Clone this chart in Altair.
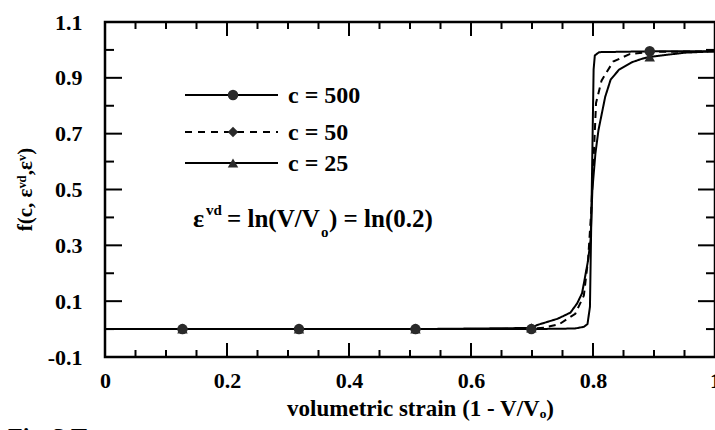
import altair as alt
import pandas as pd

# ---------------- data ----------------
series_names = ["c = 500", "c = 50", "c = 25"]

c500_x = [0.0, 0.127, 0.318, 0.509, 0.699, 0.77, 0.785, 0.791, 0.795, 0.798, 0.801, 0.803, 0.81, 0.893, 1.0]
c500_y = [0.0, 0.0, 0.0, 0.0, 0.0, 0.002, 0.008, 0.018, 0.08, 0.5, 0.93, 0.98, 0.992, 0.995, 0.995]

c50_x = [0.0, 0.127, 0.318, 0.509, 0.699, 0.72, 0.745, 0.771, 0.785, 0.792, 0.797, 0.80, 0.805, 0.814, 0.833, 0.86, 0.893, 1.0]
c50_y = [0.0, 0.0, 0.0, 0.0, 0.001, 0.005, 0.018, 0.055, 0.12, 0.25, 0.42, 0.56, 0.81, 0.89, 0.958, 0.985, 0.993, 0.995]

c25_x = [0.0, 0.127, 0.318, 0.509, 0.699, 0.709, 0.742, 0.763, 0.774, 0.782, 0.786, 0.792, 0.796, 0.799, 0.804, 0.809,
         0.820, 0.829, 0.843, 0.864, 0.880, 0.893, 0.95, 1.0]
c25_y = [0.0, 0.0, 0.0, 0.0, 0.004, 0.015, 0.037, 0.059, 0.092, 0.128, 0.175, 0.247, 0.32, 0.5, 0.63, 0.713,
         0.832, 0.894, 0.930, 0.956, 0.968, 0.975, 0.99, 0.995]

marker_x = [0.127, 0.318, 0.509, 0.699, 0.893]
c500_marker_y = [0.0, 0.0, 0.0, 0.0, 0.995]
c50_marker_y = [0.0, 0.0, 0.0, 0.001, 0.993]
c25_marker_y = [0.0, 0.0, 0.0, 0.004, 0.975]

x_major_ticks = [0.0, 0.2, 0.4, 0.6, 0.8, 1.0]
x_minor_ticks = [0.05, 0.1, 0.15, 0.25, 0.3, 0.35, 0.45, 0.5, 0.55, 0.65, 0.7, 0.75, 0.85, 0.9, 0.95]
y_major_ticks = [-0.1, 0.1, 0.3, 0.5, 0.7, 0.9, 1.1]
y_minor_ticks = [0.0, 0.2, 0.4, 0.6, 0.8, 1.0]

x_title = "volumetric strain (1 - V/V\u2092)"
y_title = "f(c, \u03b5\u1d5b\u1d48,\u03b5\u1d5b)"
caption = "Fig. 3  T"

# ---------------- tables ----------------
line_df = pd.concat([
    pd.DataFrame({"x": c500_x, "y": c500_y, "series": series_names[0]}),
    pd.DataFrame({"x": c50_x, "y": c50_y, "series": series_names[1]}),
    pd.DataFrame({"x": c25_x, "y": c25_y, "series": series_names[2]}),
], ignore_index=True)

marker_df = pd.concat([
    pd.DataFrame({"x": marker_x, "y": c500_marker_y, "series": series_names[0]}),
    pd.DataFrame({"x": marker_x, "y": c50_marker_y, "series": series_names[1]}),
    pd.DataFrame({"x": marker_x, "y": c25_marker_y, "series": series_names[2]}),
], ignore_index=True)

W, H = 610, 335
FONT = "Liberation Serif"
INK = "black"

xs = alt.Scale(domain=[0, 1], nice=False, zero=False)
ys = alt.Scale(domain=[-0.1, 1.1], nice=False, zero=False)

x_axis = alt.Axis(
    values=x_major_ticks, format="~g", labelFont=FONT, labelFontSize=22, labelFontWeight="bold",
    labelColor=INK, labelPadding=13, labelFlush=False, labelOverlap=False,
    ticks=False, tickSize=0, domain=False, grid=False,
    title=x_title, titleFont=FONT, titleFontSize=23, titleFontWeight="bold", titleColor=INK,
    titleX=315, titleY=58, titleBaseline="alphabetic", titleAlign="center",
)
y_axis = alt.Axis(
    values=y_major_ticks,
    labelExpr="datum.value < 0 ? '-' + format(-datum.value, '.1f') : format(datum.value, '.1f')",
    labelFont=FONT, labelFontSize=22, labelFontWeight="bold", labelColor=INK, labelPadding=23,
    labelFlush=False, labelOverlap=False,
    ticks=False, tickSize=0, domain=False, grid=False,
    title=y_title, titleFont=FONT, titleFontSize=21, titleFontWeight="bold", titleColor=INK,
    titleAngle=270, titleX=-74, titleY=167, titleAlign="center", titleBaseline="alphabetic",
)

X = lambda f: alt.X(f, type="quantitative", scale=xs, axis=x_axis)
Y = lambda f: alt.Y(f, type="quantitative", scale=ys, axis=y_axis)

layers = []

# inward ticks on all four sides
def xticks(vals, length):
    d = pd.DataFrame({"tx": vals})
    bot = alt.Chart(d).mark_rule(color=INK, strokeWidth=2).encode(
        x=X("tx"), y=alt.value(H), y2=alt.value(H - length))
    top = alt.Chart(d).mark_rule(color=INK, strokeWidth=2).encode(
        x=X("tx"), y=alt.value(0), y2=alt.value(length))
    return [bot, top]

def yticks(vals, length):
    d = pd.DataFrame({"ty": vals})
    left = alt.Chart(d).mark_rule(color=INK, strokeWidth=2).encode(
        y=Y("ty"), x=alt.value(0), x2=alt.value(length))
    right = alt.Chart(d).mark_rule(color=INK, strokeWidth=2).encode(
        y=Y("ty"), x=alt.value(W - length), x2=alt.value(W))
    return [left, right]

layers += xticks(x_major_ticks, 14) + xticks(x_minor_ticks, 7)
layers += yticks(y_major_ticks, 17) + yticks(y_minor_ticks, 9)

dash_scale = alt.Scale(domain=series_names, range=[[1, 0], [7, 5], [1, 0]])
shape_scale = alt.Scale(domain=series_names, range=["circle", "diamond", "triangle-up"])

lines = alt.Chart(line_df).mark_line(color=INK, strokeWidth=2).encode(
    x=X("x"), y=Y("y"), detail="series:N",
    strokeDash=alt.StrokeDash("series:N", scale=dash_scale, legend=None),
)
points = alt.Chart(marker_df).mark_point(filled=True, color="#2a2a2a", size=110, opacity=1).encode(
    x=X("x"), y=Y("y"),
    shape=alt.Shape("series:N", scale=shape_scale, legend=None),
)
layers += [lines, points]

# hand-drawn legend (inside the plot, top-left)
legend_rows = [73, 110, 141]
legend_dash = [[1, 0], [7, 6], [1, 0]]
legend_shape = ["circle", "diamond", "triangle-up"]
for name, ry, dash, shp in zip(series_names, legend_rows, legend_dash, legend_shape):
    d = pd.DataFrame({"label": [name]})
    layers.append(alt.Chart(d).mark_rule(color=INK, strokeWidth=2, strokeDash=dash).encode(
        x=alt.value(80), x2=alt.value(173), y=alt.value(ry)))
    layers.append(alt.Chart(d).mark_point(filled=True, color="#2a2a2a", size=110, opacity=1, shape=shp).encode(
        x=alt.value(128), y=alt.value(ry)))
    layers.append(alt.Chart(d).mark_text(align="left", baseline="middle", font=FONT, fontSize=24,
                                         fontWeight="bold", color=INK).encode(
        x=alt.value(183), y=alt.value(ry + 1), text="label:N"))

# annotation  eps^vd = ln(V/V_o) = ln(0.2)
ann_parts = [
    ("\u03b5", 88, 205, 26),
    ("vd", 101, 193, 15),
    ("= ln(V/V", 122, 205, 25),
    ("o", 216, 215, 15),
    (") = ln(0.2)", 224, 205, 25),
]
for txt, ax, ay, fs in ann_parts:
    d = pd.DataFrame({"t": [txt]})
    layers.append(alt.Chart(d).mark_text(align="left", baseline="alphabetic", font=FONT, fontSize=fs,
                                         fontWeight="bold", color=INK).encode(
        x=alt.value(ax), y=alt.value(ay), text="t:N"))

# cut-off caption at the bottom edge (as in the scanned reference)
layers.append(alt.Chart(pd.DataFrame({"t": [caption]})).mark_text(
    align="left", baseline="top", font=FONT, fontSize=24, fontWeight="bold", color=INK).encode(
    x=alt.value(-97), y=alt.value(403), text="t:N"))

chart = alt.layer(*layers).properties(
    width=W, height=H,
    autosize=alt.AutoSizeParams(type="none"),
    padding={"left": 105, "top": 22, "right": 0, "bottom": 73},
    background="white",
).configure_view(stroke=INK, strokeWidth=2.5)

chart.save("out.html", embed_options={"renderer": "svg", "actions": False})
